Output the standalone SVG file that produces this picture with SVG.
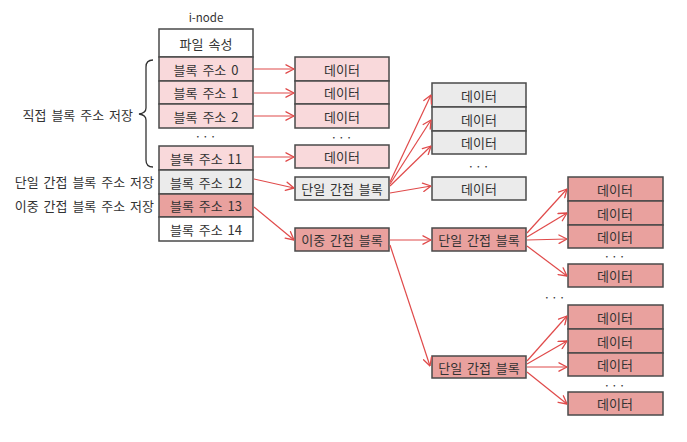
<svg xmlns="http://www.w3.org/2000/svg" width="687" height="442" viewBox="0 0 687 442">
<defs>
<marker id="ah" viewBox="0 0 10 10" refX="9.5" refY="5" markerWidth="10" markerHeight="10" markerUnits="userSpaceOnUse" orient="auto">
<path d="M1.5,0.8 L9.5,5 L1.5,9.2" fill="none" stroke="#e04a4a" stroke-width="1.3" stroke-linecap="round" stroke-linejoin="round"/>
</marker>
</defs>
<style>
text{font-family:"Noto Sans CJK KR","Noto Sans",sans-serif;font-size:13px;word-spacing:2px;fill:#333;text-anchor:middle;dominant-baseline:central}
.lab{text-anchor:end}
rect{stroke:#4a4a4a;stroke-width:1.5}
.w{fill:#ffffff}
.p{fill:#f9d9db}
.g{fill:#ebebeb}
.r{fill:#e9a19e}
.c line,.c path{stroke:#e04a4a;stroke-width:1.2;fill:none;marker-end:url(#ah)}
.dots{font-size:12px;letter-spacing:1px}
</style>
<rect width="687" height="442" fill="#ffffff" style="stroke:none"/>

<g id="inode">
<text x="206" y="17" style="font-size:11.5px">i-node</text>
<rect class="w" x="159" y="29" width="94" height="28"/><text x="206" y="43">파일 속성</text>
<rect class="p" x="159" y="57" width="94" height="24"/><text x="206" y="69">블록 주소 0</text>
<rect class="p" x="159" y="81" width="94" height="23"/><text x="206" y="92.5">블록 주소 1</text>
<rect class="p" x="159" y="104" width="94" height="24"/><text x="206" y="116">블록 주소 2</text>
<text class="dots" x="206" y="135">···</text>
<rect class="p" x="159" y="146" width="94" height="24"/><text x="206" y="158">블록 주소 11</text>
<rect class="g" x="159" y="170" width="94" height="24"/><text x="206" y="182">블록 주소 12</text>
<rect class="r" x="159" y="194" width="94" height="23"/><text x="206" y="205.5">블록 주소 13</text>
<rect class="w" x="159" y="217" width="94" height="24"/><text x="206" y="229">블록 주소 14</text>
</g>

<g id="labels">
<path d="M153,60 Q146,60 146,67 L146,108 Q146,113 139,114 Q146,115 146,120 L146,160 Q146,167 153,167" fill="none" stroke="#333" stroke-width="1.3"/>
<text class="lab" x="133" y="114">직접 블록 주소 저장</text>
<text class="lab" x="154" y="181">단일 간접 블록 주소 저장</text>
<text class="lab" x="154" y="205">이중 간접 블록 주소 저장</text>
</g>

<g id="direct-data">
<rect class="p" x="295" y="57" width="94" height="24"/><text x="342" y="69">데이터</text>
<rect class="p" x="295" y="81" width="94" height="23"/><text x="342" y="92.5">데이터</text>
<rect class="p" x="295" y="104" width="94" height="24"/><text x="342" y="116">데이터</text>
<text class="dots" x="342" y="136">···</text>
<rect class="p" x="295" y="145" width="94" height="23"/><text x="342" y="156.5">데이터</text>
</g>

<g id="single-indirect">
<rect class="g" x="295" y="177" width="94" height="23"/><text x="342" y="188.5">단일 간접 블록</text>
</g>

<g id="double-indirect">
<rect class="r" x="295" y="228" width="94" height="23"/><text x="342" y="239.5">이중 간접 블록</text>
</g>

<g id="single-data">
<rect class="g" x="432" y="83" width="94" height="24"/><text x="479" y="95">데이터</text>
<rect class="g" x="432" y="107" width="94" height="24"/><text x="479" y="119">데이터</text>
<rect class="g" x="432" y="131" width="94" height="23"/><text x="479" y="142.5">데이터</text>
<text class="dots" x="479" y="165">···</text>
<rect class="g" x="432" y="177" width="94" height="23"/><text x="479" y="188.5">데이터</text>
</g>

<g id="double-single-1">
<rect class="r" x="432" y="228" width="94" height="23"/><text x="479" y="239.5">단일 간접 블록</text>
</g>

<g id="double-single-2">
<rect class="r" x="432" y="356" width="94" height="22"/><text x="479" y="367">단일 간접 블록</text>
</g>

<g id="double-data-1">
<rect class="r" x="568" y="177" width="95" height="24"/><text x="615" y="189">데이터</text>
<rect class="r" x="568" y="201" width="95" height="24"/><text x="615" y="213">데이터</text>
<rect class="r" x="568" y="225" width="95" height="23"/><text x="615" y="236.5">데이터</text>
<text class="dots" x="615" y="255">···</text>
<rect class="r" x="568" y="264" width="95" height="23"/><text x="615" y="275.5">데이터</text>
</g>

<text class="dots" x="555" y="296">···</text>

<g id="double-data-2">
<rect class="r" x="568" y="305" width="95" height="24"/><text x="615" y="317">데이터</text>
<rect class="r" x="568" y="329" width="95" height="24"/><text x="615" y="341">데이터</text>
<rect class="r" x="568" y="353" width="95" height="23"/><text x="615" y="364.5">데이터</text>
<text class="dots" x="615" y="384">···</text>
<rect class="r" x="568" y="392" width="95" height="23"/><text x="615" y="403.5">데이터</text>
</g>

<g id="connectors" class="c">
<line x1="254" y1="69" x2="294" y2="69"/>
<line x1="254" y1="93" x2="294" y2="93"/>
<line x1="254" y1="116" x2="294" y2="116"/>
<line x1="254" y1="157" x2="294" y2="157"/>
<line x1="254" y1="179" x2="294" y2="188"/>
<line x1="254" y1="207" x2="294" y2="240"/>
<line x1="390" y1="182" x2="431" y2="95"/>
<line x1="390" y1="184" x2="431" y2="120"/>
<line x1="390" y1="186" x2="431" y2="146"/>
<line x1="390" y1="193" x2="431" y2="186"/>
<line x1="390" y1="240" x2="431" y2="240"/>
<line x1="390" y1="245" x2="430" y2="366"/>
<line x1="527" y1="233" x2="567" y2="189"/>
<line x1="527" y1="237" x2="567" y2="213"/>
<line x1="527" y1="240" x2="567" y2="239"/>
<line x1="527" y1="246" x2="567" y2="276"/>
<line x1="527" y1="361" x2="567" y2="316"/>
<line x1="527" y1="364" x2="567" y2="341"/>
<line x1="527" y1="367" x2="567" y2="367"/>
<line x1="527" y1="372" x2="567" y2="404"/>
</g>
</svg>
